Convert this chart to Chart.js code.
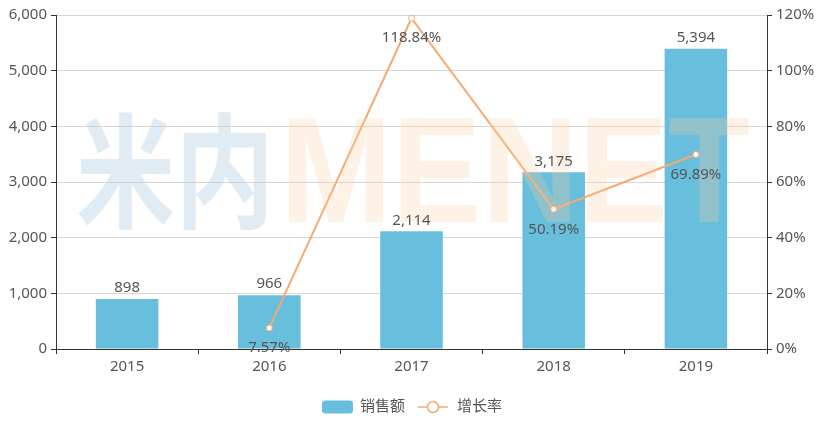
<!DOCTYPE html>
<html>
<head>
    <meta charset="UTF-8">
    <title>销售额 与 增长率</title>
    <style>
        body { margin: 0; background: white; }
        #wrap { width: 839px; height: 423px; position: relative; }
    </style>
    <script src="https://cdn.jsdelivr.net/npm/chart.js"></script>
</head>
<body>
<div id="wrap"><canvas id="chart" width="839" height="423"></canvas></div>
<script>
    // data
    var years = ['2015', '2016', '2017', '2018', '2019'];
    var sales = [898, 966, 2114, 3175, 5394];
    var growth = [null, 7.57, 118.84, 50.19, 69.89];
    var salesLabel = '销售额';
    var growthLabel = '增长率';

    var FONT = "'Noto Sans', 'Noto Sans CJK SC', sans-serif";
    var FSIZE = 15;
    var barColor = '#68bedd';
    var lineColor = '#f5aa72';
    var textColor = '#555';

    // watermark + value labels + legend
    var extras = {
        id: 'extras',
        afterDatasetsDraw: function (chart) {
            var ctx = chart.ctx;
            ctx.save();
            // watermark
            ctx.textBaseline = 'alphabetic';
            ctx.textAlign = 'left';
            function fitText(txt, x0, x1, yBase, color, font) {
                ctx.font = font;
                var w = ctx.measureText(txt).width;
                ctx.save();
                ctx.translate(x0, yBase);
                ctx.scale((x1 - x0) / w, 1);
                ctx.fillStyle = color;
                ctx.fillText(txt, 0, 0);
                ctx.restore();
            }
            fitText('米内', 76, 274, 218, 'rgba(180,208,226,0.42)', "bold 124px 'Noto Sans CJK SC'");
            fitText('MENET', 280, 750, 222, 'rgba(252,205,160,0.28)', "bold 150px 'Liberation Sans'");

            // bar value labels
            ctx.font = FSIZE + 'px ' + FONT;
            ctx.fillStyle = textColor;
            ctx.textAlign = 'center';
            ctx.textBaseline = 'middle';
            var barMeta = chart.getDatasetMeta(0);
            barMeta.data.forEach(function (bar, i) {
                ctx.fillText(sales[i].toLocaleString('en-US'), bar.x, bar.y - 11);
            });
            // growth labels
            var lineMeta = chart.getDatasetMeta(1);
            lineMeta.data.forEach(function (pt, i) {
                if (growth[i] == null) return;
                ctx.fillText(growth[i].toFixed(2) + '%', pt.x, pt.y + 20);
            });

            // legend
            var ly = 407;
            var rx = 322;
            ctx.fillStyle = barColor;
            ctx.beginPath();
            ctx.roundRect(rx, ly - 6.5, 31, 13, 3);
            ctx.fill();
            ctx.fillStyle = textColor;
            ctx.textAlign = 'left';
            ctx.fillText(salesLabel, rx + 38, ly);
            var lx = 418;
            ctx.strokeStyle = lineColor;
            ctx.lineWidth = 1.5;
            ctx.beginPath();
            ctx.moveTo(lx, ly);
            ctx.lineTo(lx + 30, ly);
            ctx.stroke();
            ctx.fillStyle = 'white';
            ctx.beginPath();
            ctx.arc(lx + 15, ly, 5.5, 0, Math.PI * 2);
            ctx.fill();
            ctx.stroke();
            ctx.fillStyle = textColor;
            ctx.fillText(growthLabel, lx + 39, ly);
            ctx.restore();
        }
    };

    new Chart(document.getElementById('chart'), {
        data: {
            labels: years,
            datasets: [{
                type: 'bar',
                label: salesLabel,
                data: sales,
                backgroundColor: barColor,
                barPercentage: 0.44,
                categoryPercentage: 1,
                yAxisID: 'y',
                order: 2
            }, {
                type: 'line',
                label: growthLabel,
                data: growth,
                borderColor: lineColor,
                borderWidth: 2,
                pointBackgroundColor: 'white',
                pointBorderColor: lineColor,
                pointBorderWidth: 1,
                pointRadius: 3,
                yAxisID: 'y1',
                order: 1
            }]
        },
        options: {
            responsive: false,
            animation: false,
            layout: { padding: { top: 15 } },
            plugins: {
                legend: { display: false },
                tooltip: { enabled: false }
            },
            scales: {
                x: {
                    offset: true,
                    grid: { offset: true, drawOnChartArea: false, tickLength: 5, tickColor: '#333' },
                    border: { color: '#333' },
                    ticks: { color: textColor, font: { size: FSIZE, family: FONT }, padding: 4 },
                    afterFit: function (s) { s.height = 74; }
                },
                y: {
                    position: 'left',
                    min: 0, max: 6000,
                    ticks: {
                        stepSize: 1000, color: textColor, font: { size: FSIZE, family: FONT }, padding: 4,
                        callback: function (v) { return v.toLocaleString('en-US'); }
                    },
                    grid: { color: '#d6d6d6', tickLength: 5, tickColor: '#333' },
                    border: { color: '#333' },
                    afterFit: function (s) { s.width = 56; }
                },
                y1: {
                    position: 'right',
                    min: 0, max: 120,
                    ticks: {
                        stepSize: 20, color: textColor, font: { size: FSIZE, family: FONT }, padding: 4,
                        callback: function (v) { return v + '%'; }
                    },
                    grid: { drawOnChartArea: false, tickLength: 5, tickColor: '#333' },
                    border: { color: '#333' },
                    afterFit: function (s) { s.width = 72; }
                }
            }
        },
        plugins: [extras]
    });
</script>
</body>
</html>
